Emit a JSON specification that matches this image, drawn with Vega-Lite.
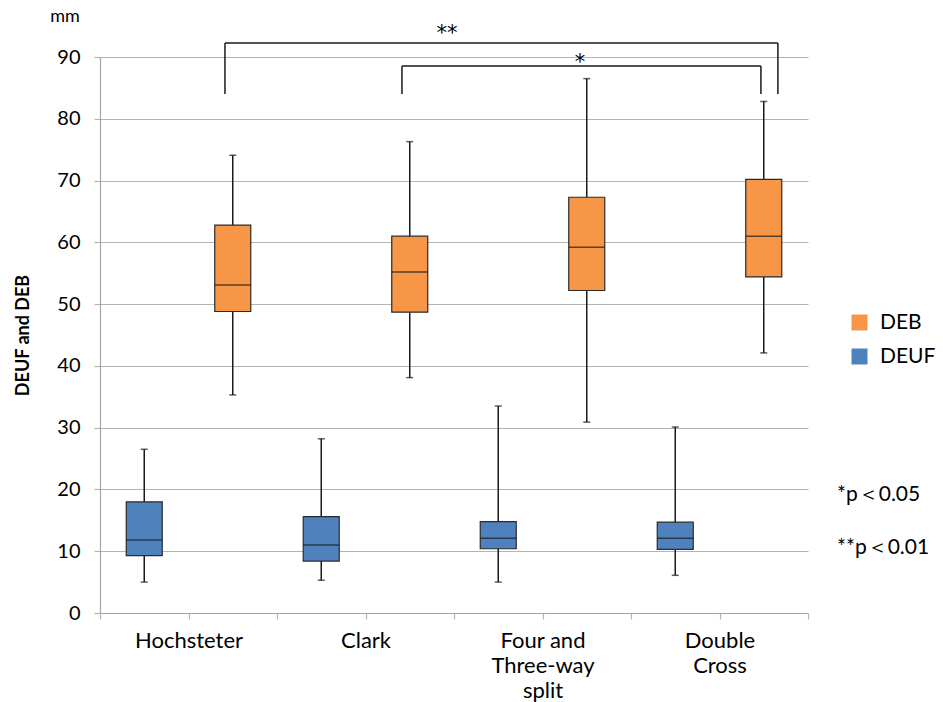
{
  "$schema": "https://vega.github.io/schema/vega-lite/v6.json",
  "width": 708,
  "height": 556,
  "autosize": {"type": "none"},
  "padding": {"left": 100, "top": 57, "right": 135, "bottom": 89},
  "background": "white",
  "config": {
    "font": "Lato",
    "view": {"stroke": null}
  },
  "datasets": {
    "boxes": [
      {"type": "Hochsteter", "series": "DEUF", "min": 5.0, "q1": 9.3, "median": 11.8, "q3": 18.0, "max": 26.5},
      {"type": "Hochsteter", "series": "DEB", "min": 35.3, "q1": 48.8, "median": 53.1, "q3": 62.8, "max": 74.1},
      {"type": "Clark", "series": "DEUF", "min": 5.3, "q1": 8.4, "median": 11.0, "q3": 15.6, "max": 28.2},
      {"type": "Clark", "series": "DEB", "min": 38.1, "q1": 48.7, "median": 55.2, "q3": 61.0, "max": 76.3},
      {"type": "Four and Three-way split", "series": "DEUF", "min": 5.0, "q1": 10.4, "median": 12.1, "q3": 14.8, "max": 33.5},
      {"type": "Four and Three-way split", "series": "DEB", "min": 30.9, "q1": 52.2, "median": 59.2, "q3": 67.3, "max": 86.5},
      {"type": "Double Cross", "series": "DEUF", "min": 6.1, "q1": 10.3, "median": 12.1, "q3": 14.7, "max": 30.1},
      {"type": "Double Cross", "series": "DEB", "min": 42.1, "q1": 54.4, "median": 61.0, "q3": 70.2, "max": 82.8}
    ],
    "brackets": [
      {"sig": "**", "x": 0.706, "y": 84.0, "x2": 0.706, "y2": 92.27},
      {"sig": "**", "x": 0.706, "y": 92.27, "x2": 3.83, "y2": 92.27},
      {"sig": "**", "x": 3.83, "y": 92.27, "x2": 3.83, "y2": 84.0},
      {"sig": "*", "x": 1.706, "y": 84.0, "x2": 1.706, "y2": 88.54},
      {"sig": "*", "x": 1.706, "y": 88.54, "x2": 3.734, "y2": 88.54},
      {"sig": "*", "x": 3.734, "y": 88.54, "x2": 3.734, "y2": 84.0}
    ],
    "notes": [
      {"kind": "star", "x": 1.96, "y": 92.7, "label": "**"},
      {"kind": "star", "x": 2.712, "y": 88.0, "label": "*"},
      {"kind": "unit", "x": -0.198, "y": 96.5, "label": "mm"},
      {"kind": "p", "x": 4.164, "y": 19.1, "label": "*p＜0.05"},
      {"kind": "p", "x": 4.164, "y": 10.5, "label": "**p＜0.01"}
    ]
  },
  "layer": [
    {
      "data": {"name": "boxes"},
      "encoding": {
        "x": {"field": "type", "type": "nominal", "sort": ["Hochsteter", "Clark", "Four and Three-way split", "Double Cross"],
              "scale": {"paddingInner": 0, "paddingOuter": 0}, "axis": null},
        "xOffset": {"field": "series", "type": "nominal", "sort": ["DEUF", "DEB"], "scale": {"domain": ["DEUF", "DEB"], "paddingInner": 0, "paddingOuter": 0}}
      },
      "layer": [
        {
          "mark": {"type": "rule", "color": "#1a1a1a", "strokeWidth": 1.5},
          "encoding": {
            "y": {"field": "min", "type": "quantitative",
                  "scale": {"domain": [0, 90], "nice": false, "zero": true},
                  "axis": {"title": "DEUF and DEB", "values": [0, 10, 20, 30, 40, 50, 60, 70, 80, 90],
                           "grid": true, "gridColor": "#b4b4b4", "gridWidth": 1.2,
                           "domainColor": "#a6a6a6", "domainWidth": 1.2, "tickColor": "#b4b4b4", "tickSize": 6, "tickWidth": 1.2,
                           "labelFontSize": 20, "labelColor": "#000", "labelPadding": 14,
                           "titleFontSize": 18, "titleFontWeight": "bold", "titleColor": "#000", "titlePadding": 24}},
            "y2": {"field": "max"}
          }
        },
        {
          "mark": {"type": "tick", "color": "#1a1a1a", "size": 7, "thickness": 1.5},
          "encoding": {"y": {"field": "min", "type": "quantitative"}}
        },
        {
          "mark": {"type": "tick", "color": "#1a1a1a", "size": 7, "thickness": 1.5},
          "encoding": {"y": {"field": "max", "type": "quantitative"}}
        },
        {
          "mark": {"type": "bar", "width": 36, "stroke": "#2b2b2b", "strokeWidth": 1.2},
          "encoding": {
            "y": {"field": "q1", "type": "quantitative"},
            "y2": {"field": "q3"},
            "color": {"field": "series", "type": "nominal",
                      "scale": {"domain": ["DEB", "DEUF"], "range": ["#F79646", "#4F81BD"]},
                      "legend": {"title": null, "orient": "none", "legendX": 749, "legendY": 255,
                                 "symbolType": "square", "symbolSize": 256, "symbolStrokeWidth": 0, "symbolOpacity": 1,
                                 "labelFontSize": 21, "labelColor": "#000", "labelOffset": 10, "rowPadding": 12, "padding": 0}}
          }
        },
        {
          "mark": {"type": "tick", "color": "#1a1a1a", "size": 36, "thickness": 1.5},
          "encoding": {"y": {"field": "median", "type": "quantitative"}}
        }
      ]
    },
    {
      "layer": [
        {
          "data": {"name": "brackets"},
          "mark": {"type": "rule", "color": "#1a1a1a", "strokeWidth": 1.5},
          "encoding": {
            "x": {"field": "x", "type": "quantitative", "scale": {"domain": [0, 4], "nice": false, "zero": false},
                  "axis": {"orient": "bottom", "values": [0, 0.5, 1, 1.5, 2, 2.5, 3, 3.5, 4], "title": null, "grid": false,
                           "domainColor": "#a6a6a6", "domainWidth": 1.2, "tickColor": "#b4b4b4", "tickSize": 6, "tickWidth": 1.2,
                           "labelExpr": "datum.value == 0.5 ? 'Hochsteter' : datum.value == 1.5 ? 'Clark' : datum.value == 2.5 ? ['Four and', 'Three-way', 'split'] : datum.value == 3.5 ? ['Double', 'Cross'] : ''",
                           "labelFontSize": 22, "labelColor": "#000", "labelPadding": 11, "labelLineHeight": 25,
                           "labelAngle": 0, "labelAlign": "center", "labelBaseline": "top", "labelOverlap": false, "labelFlush": false}},
            "x2": {"field": "x2"},
            "y": {"field": "y", "type": "quantitative"},
            "y2": {"field": "y2"}
          }
        },
        {
          "data": {"name": "notes"},
          "transform": [{"filter": "datum.kind == 'star'"}],
          "mark": {"type": "text", "font": "DejaVu Sans", "fontSize": 21, "align": "center", "baseline": "alphabetic", "color": "#000"},
          "encoding": {
            "x": {"field": "x", "type": "quantitative"},
            "y": {"field": "y", "type": "quantitative"},
            "text": {"field": "label"}
          }
        },
        {
          "data": {"name": "notes"},
          "transform": [{"filter": "datum.kind == 'unit'"}],
          "mark": {"type": "text", "fontSize": 18, "align": "center", "baseline": "middle", "color": "#000"},
          "encoding": {
            "x": {"field": "x", "type": "quantitative"},
            "y": {"field": "y", "type": "quantitative"},
            "text": {"field": "label"}
          }
        },
        {
          "data": {"name": "notes"},
          "transform": [{"filter": "datum.kind == 'p'"}],
          "mark": {"type": "text", "fontSize": 21, "align": "left", "baseline": "middle", "color": "#000"},
          "encoding": {
            "x": {"field": "x", "type": "quantitative"},
            "y": {"field": "y", "type": "quantitative"},
            "text": {"field": "label"}
          }
        }
      ]
    }
  ],
  "resolve": {"scale": {"x": "independent"}, "axis": {"x": "independent"}}
}
